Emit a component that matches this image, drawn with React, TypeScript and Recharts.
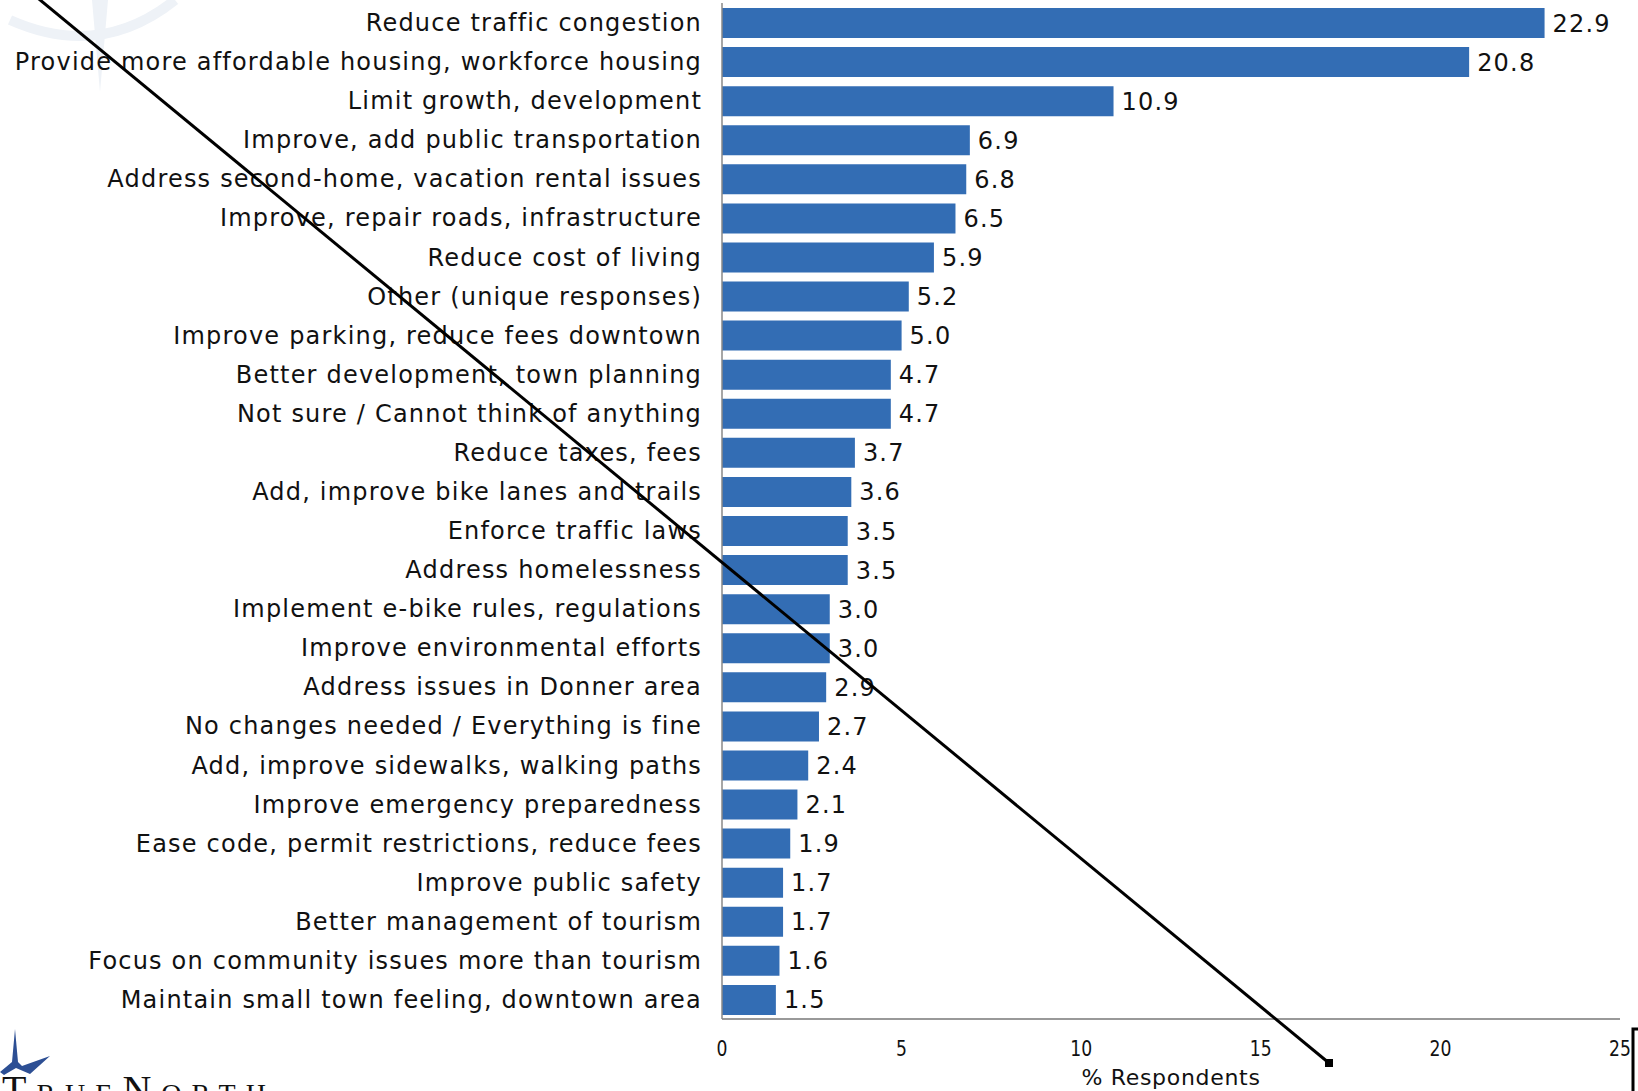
import React from "react";
import { BarChart, Bar, XAxis, YAxis, LabelList, Label } from "recharts";

const categories = [
  "Reduce traffic congestion",
  "Provide more affordable housing, workforce housing",
  "Limit growth, development",
  "Improve, add public transportation",
  "Address second-home, vacation rental issues",
  "Improve, repair roads, infrastructure",
  "Reduce cost of living",
  "Other (unique responses)",
  "Improve parking, reduce fees downtown",
  "Better development, town planning",
  "Not sure / Cannot think of anything",
  "Reduce taxes, fees",
  "Add, improve bike lanes and trails",
  "Enforce traffic laws",
  "Address homelessness",
  "Implement e-bike rules, regulations",
  "Improve environmental efforts",
  "Address issues in Donner area",
  "No changes needed / Everything is fine",
  "Add, improve sidewalks, walking paths",
  "Improve emergency preparedness",
  "Ease code, permit restrictions, reduce fees",
  "Improve public safety",
  "Better management of tourism",
  "Focus on community issues more than tourism",
  "Maintain small town feeling, downtown area",
];

const values = [
  22.9, 20.8, 10.9, 6.9, 6.8, 6.5, 5.9, 5.2, 5.0, 4.7, 4.7, 3.7, 3.6, 3.5, 3.5,
  3.0, 3.0, 2.9, 2.7, 2.4, 2.1, 1.9, 1.7, 1.7, 1.6, 1.5,
];

const xTicks = [0, 5, 10, 15, 20, 25];
const xAxisTitle = "% Respondents";

const data = categories.map((name, i) => ({ name, value: values[i] }));

const LABEL_FONT = "'DejaVu Sans', Verdana, sans-serif";
const BAR_COLOR = "#336DB4";

const XTick = (props: any) => {
  const { x, y, payload } = props;
  return (
    <text
      transform={`translate(${x},${y + 35}) scale(0.82,1)`}
      textAnchor="middle"
      fontFamily={LABEL_FONT}
      fontSize={21}
      fill="#111"
    >
      {payload.value}
    </text>
  );
};

const XTitle = (props: any) => {
  const vb = props.viewBox || {};
  const cx = vb.x + vb.width / 2;
  return (
    <text
      x={cx}
      y={vb.y + 66}
      textAnchor="middle"
      fontFamily={LABEL_FONT}
      fontSize={22}
      letterSpacing={0.7}
      fill="#111"
    >
      {xAxisTitle}
    </text>
  );
};

export default function App() {
  return (
    <div
      style={{
        position: "absolute",
        left: 0,
        top: 0,
        width: 1638,
        height: 1091,
        background: "#fff",
        overflow: "hidden",
      }}
    >
      {/* faint watermark */}
      <svg
        width={1638}
        height={1091}
        style={{ position: "absolute", left: 0, top: 0 }}
      >
        <path d="M92,0 L100,92 L108,0 Z" fill="#eef2f7" />
        <path d="M10,20 Q100,60 175,0" stroke="#eef2f7" strokeWidth={10} fill="none" />
      </svg>
      <div style={{ position: "absolute", left: 0, top: 0 }}>
        <BarChart
          width={1638}
          height={1091}
          data={data}
          layout="vertical"
          margin={{ top: 3, right: 18, bottom: 0, left: 0 }}
          barSize={30}
        >
          <XAxis
            type="number"
            domain={[0, 25]}
            ticks={xTicks}
            interval={0}
            height={72}
            axisLine={{ stroke: "#777", strokeWidth: 1.5 }}
            tickLine={false}
            tickSize={0}
            tick={<XTick />}
          >
            <Label content={<XTitle />} />
          </XAxis>
          <YAxis
            type="category"
            dataKey="name"
            width={722}
            interval={0}
            axisLine={{ stroke: "#888", strokeWidth: 1.5 }}
            tickLine={false}
            tickSize={0}
            tickMargin={20}
            tick={{ fill: "#111", fontSize: 24, fontFamily: LABEL_FONT, letterSpacing: 1.2 }}
          />
          <Bar dataKey="value" fill={BAR_COLOR} isAnimationActive={false}>
            <LabelList
              dataKey="value"
              position="right"
              offset={8}
              formatter={(v: any) => Number(v).toFixed(1)}
              style={{ fill: "#111", fontSize: 24, fontFamily: LABEL_FONT, letterSpacing: 1.2 }}
            />
          </Bar>
        </BarChart>
      </div>
      {/* overlay decorations: stray line, logo, bracket */}
      <svg
        width={1638}
        height={1091}
        style={{ position: "absolute", left: 0, top: 0, pointerEvents: "none" }}
      >
        <line x1={28} y1={-10} x2={1329} y2={1063} stroke="#000" strokeWidth={3} />
        <rect x={1325} y={1059} width={8} height={8} fill="#000" />
        <path d="M1638,1029 L1633,1029 L1633,1091" stroke="#000" strokeWidth={3} fill="none" />
        <path d="M15,1029 L12,1062 L0,1072 L4,1075 L16,1068 L30,1074 L50,1056 L22,1066 L18,1062 Z" fill="#2d4f94" />
        <text
          x={2}
          y={1103}
          fontFamily="'Liberation Serif', 'DejaVu Serif', serif"
          fontSize={40}
          letterSpacing={10}
          style={{ fontVariant: "small-caps" }}
          fill="#111"
        >
          TrueNorth
        </text>
      </svg>
    </div>
  );
}
